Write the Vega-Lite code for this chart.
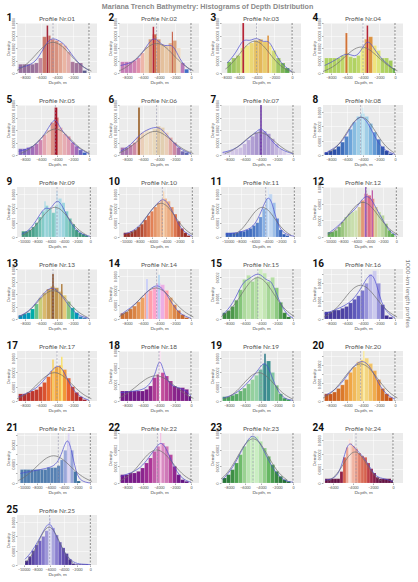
{
"$schema":"https://vega.github.io/schema/vega-lite/v6.json",
"title":{"text":"Mariana Trench Bathymetry: Histograms of Depth Distribution","fontSize":7.2,"fontWeight":"bold","color":"#8a8a8a","offset":2,"anchor":"middle","frame":"bounds","font":"Liberation Sans"},
"padding":{"left":5,"right":2,"top":3,"bottom":2},
"spacing":0,
"resolve":{"scale":{"color":"independent"}},
"hconcat":[
{"vconcat":[
{"hconcat":[
{"title":"Profile Nr.01","layer":[{"data":{"name":"h1"},"mark":"rect","encoding":{"x":{"field":"x","type":"quantitative","scale":{"domain":[-9000,300]},"title":"Depth, m"},"x2":{"field":"x2"},"y":{"field":"y","type":"quantitative","title":"Density"},"y2":{"datum":0},"color":{"field":"y","type":"quantitative","scale":{"range":["#5a5a8c","#f2c6b6","#9e1a2e"]}}}},{"data":{"name":"c1"},"mark":"line","encoding":{"x":{"field":"x","type":"quantitative","axis":null},"y":{"field":"y","type":"quantitative"},"stroke":{"field":"c","type":"nominal"}}},{"data":{"name":"r1"},"mark":"rule","encoding":{"x":{"field":"x","type":"quantitative","axis":{"orient":"top","title":"1"}},"stroke":{"field":"t","type":"nominal"}}}],"resolve":{"axis":{"x":"independent"}}},
{"title":"Profile Nr.02","layer":[{"data":{"name":"h2"},"mark":"rect","encoding":{"x":{"field":"x","type":"quantitative","scale":{"domain":[-9000,300]},"title":"Depth, m"},"x2":{"field":"x2"},"y":{"field":"y","type":"quantitative","title":"Density"},"y2":{"datum":0},"color":{"field":"y","type":"quantitative","scale":{"range":["#3f6fc8","#f0dcc2","#b3172c"]}}}},{"data":{"name":"c2"},"mark":"line","encoding":{"x":{"field":"x","type":"quantitative","axis":null},"y":{"field":"y","type":"quantitative"},"stroke":{"field":"c","type":"nominal"}}},{"data":{"name":"r2"},"mark":"rule","encoding":{"x":{"field":"x","type":"quantitative","axis":{"orient":"top","title":"2"}},"stroke":{"field":"t","type":"nominal"}}}],"resolve":{"axis":{"x":"independent"}}},
{"title":"Profile Nr.03","layer":[{"data":{"name":"h3"},"mark":"rect","encoding":{"x":{"field":"x","type":"quantitative","scale":{"domain":[-7500,300]},"title":"Depth, m"},"x2":{"field":"x2"},"y":{"field":"y","type":"quantitative","title":"Density"},"y2":{"datum":0},"color":{"field":"y","type":"quantitative","scale":{"range":["#5aa84e","#f0ea8a","#b2182b"]}}}},{"data":{"name":"c3"},"mark":"line","encoding":{"x":{"field":"x","type":"quantitative","axis":null},"y":{"field":"y","type":"quantitative"},"stroke":{"field":"c","type":"nominal"}}},{"data":{"name":"r3"},"mark":"rule","encoding":{"x":{"field":"x","type":"quantitative","axis":{"orient":"top","title":"3"}},"stroke":{"field":"t","type":"nominal"}}}],"resolve":{"axis":{"x":"independent"}}},
{"title":"Profile Nr.04","layer":[{"data":{"name":"h4"},"mark":"rect","encoding":{"x":{"field":"x","type":"quantitative","scale":{"domain":[-9000,300]},"title":"Depth, m"},"x2":{"field":"x2"},"y":{"field":"y","type":"quantitative","title":"Density"},"y2":{"datum":0},"color":{"field":"y","type":"quantitative","scale":{"range":["#6fb84a","#f2ee88","#b2182b"]}}}},{"data":{"name":"c4"},"mark":"line","encoding":{"x":{"field":"x","type":"quantitative","axis":null},"y":{"field":"y","type":"quantitative"},"stroke":{"field":"c","type":"nominal"}}},{"data":{"name":"r4"},"mark":"rule","encoding":{"x":{"field":"x","type":"quantitative","axis":{"orient":"top","title":"4"}},"stroke":{"field":"t","type":"nominal"}}}],"resolve":{"axis":{"x":"independent"}}}
],"spacing":10,"resolve":{"scale":{"color":"independent"}}},
{"hconcat":[
{"title":"Profile Nr.05","layer":[{"data":{"name":"h5"},"mark":"rect","encoding":{"x":{"field":"x","type":"quantitative","scale":{"domain":[-9000,300]},"title":"Depth, m"},"x2":{"field":"x2"},"y":{"field":"y","type":"quantitative","title":"Density"},"y2":{"datum":0},"color":{"field":"y","type":"quantitative","scale":{"range":["#3a5fbf","#eec6c0","#a50f25"]}}}},{"data":{"name":"c5"},"mark":"line","encoding":{"x":{"field":"x","type":"quantitative","axis":null},"y":{"field":"y","type":"quantitative"},"stroke":{"field":"c","type":"nominal"}}},{"data":{"name":"r5"},"mark":"rule","encoding":{"x":{"field":"x","type":"quantitative","axis":{"orient":"top","title":"5"}},"stroke":{"field":"t","type":"nominal"}}}],"resolve":{"axis":{"x":"independent"}}},
{"title":"Profile Nr.06","layer":[{"data":{"name":"h6"},"mark":"rect","encoding":{"x":{"field":"x","type":"quantitative","scale":{"domain":[-9000,300]},"title":"Depth, m"},"x2":{"field":"x2"},"y":{"field":"y","type":"quantitative","title":"Density"},"y2":{"datum":0},"color":{"field":"y","type":"quantitative","scale":{"range":["#5d68b0","#eee0c8","#8c4a0a"]}}}},{"data":{"name":"c6"},"mark":"line","encoding":{"x":{"field":"x","type":"quantitative","axis":null},"y":{"field":"y","type":"quantitative"},"stroke":{"field":"c","type":"nominal"}}},{"data":{"name":"r6"},"mark":"rule","encoding":{"x":{"field":"x","type":"quantitative","axis":{"orient":"top","title":"6"}},"stroke":{"field":"t","type":"nominal"}}}],"resolve":{"axis":{"x":"independent"}}},
{"title":"Profile Nr.07","layer":[{"data":{"name":"h7"},"mark":"rect","encoding":{"x":{"field":"x","type":"quantitative","scale":{"domain":[-9000,300]},"title":"Depth, m"},"x2":{"field":"x2"},"y":{"field":"y","type":"quantitative","title":"Density"},"y2":{"datum":0},"color":{"field":"y","type":"quantitative","scale":{"range":["#dcd2ec","#a08cca","#5b1a9c"]}}}},{"data":{"name":"c7"},"mark":"line","encoding":{"x":{"field":"x","type":"quantitative","axis":null},"y":{"field":"y","type":"quantitative"},"stroke":{"field":"c","type":"nominal"}}},{"data":{"name":"r7"},"mark":"rule","encoding":{"x":{"field":"x","type":"quantitative","axis":{"orient":"top","title":"7"}},"stroke":{"field":"t","type":"nominal"}}}],"resolve":{"axis":{"x":"independent"}}},
{"title":"Profile Nr.08","layer":[{"data":{"name":"h8"},"mark":"rect","encoding":{"x":{"field":"x","type":"quantitative","scale":{"domain":[-9000,300]},"title":"Depth, m"},"x2":{"field":"x2"},"y":{"field":"y","type":"quantitative","title":"Density"},"y2":{"datum":0},"color":{"field":"y","type":"quantitative","scale":{"range":["#243c9a","#6aa0d8","#c8e8f2"]}}}},{"data":{"name":"c8"},"mark":"line","encoding":{"x":{"field":"x","type":"quantitative","axis":null},"y":{"field":"y","type":"quantitative"},"stroke":{"field":"c","type":"nominal"}}},{"data":{"name":"r8"},"mark":"rule","encoding":{"x":{"field":"x","type":"quantitative","axis":{"orient":"top","title":"8"}},"stroke":{"field":"t","type":"nominal"}}}],"resolve":{"axis":{"x":"independent"}}}
],"spacing":10,"resolve":{"scale":{"color":"independent"}}},
{"hconcat":[
{"title":"Profile Nr.09","layer":[{"data":{"name":"h9"},"mark":"rect","encoding":{"x":{"field":"x","type":"quantitative","scale":{"domain":[-10500,300]},"title":"Depth, m"},"x2":{"field":"x2"},"y":{"field":"y","type":"quantitative","title":"Density"},"y2":{"datum":0},"color":{"field":"y","type":"quantitative","scale":{"range":["#2e8a6a","#7cc8c0","#c6e2f2"]}}}},{"data":{"name":"c9"},"mark":"line","encoding":{"x":{"field":"x","type":"quantitative","axis":null},"y":{"field":"y","type":"quantitative"},"stroke":{"field":"c","type":"nominal"}}},{"data":{"name":"r9"},"mark":"rule","encoding":{"x":{"field":"x","type":"quantitative","axis":{"orient":"top","title":"9"}},"stroke":{"field":"t","type":"nominal"}}}],"resolve":{"axis":{"x":"independent"}}},
{"title":"Profile Nr.10","layer":[{"data":{"name":"h10"},"mark":"rect","encoding":{"x":{"field":"x","type":"quantitative","scale":{"domain":[-10500,300]},"title":"Depth, m"},"x2":{"field":"x2"},"y":{"field":"y","type":"quantitative","title":"Density"},"y2":{"datum":0},"color":{"field":"y","type":"quantitative","scale":{"range":["#8a1c1c","#e07850","#f6d4b4"]}}}},{"data":{"name":"c10"},"mark":"line","encoding":{"x":{"field":"x","type":"quantitative","axis":null},"y":{"field":"y","type":"quantitative"},"stroke":{"field":"c","type":"nominal"}}},{"data":{"name":"r10"},"mark":"rule","encoding":{"x":{"field":"x","type":"quantitative","axis":{"orient":"top","title":"10"}},"stroke":{"field":"t","type":"nominal"}}}],"resolve":{"axis":{"x":"independent"}}},
{"title":"Profile Nr.11","layer":[{"data":{"name":"h11"},"mark":"rect","encoding":{"x":{"field":"x","type":"quantitative","scale":{"domain":[-10500,300]},"title":"Depth, m"},"x2":{"field":"x2"},"y":{"field":"y","type":"quantitative","title":"Density"},"y2":{"datum":0},"color":{"field":"y","type":"quantitative","scale":{"range":["#2855b0","#7ea8e0","#dae8f8"]}}}},{"data":{"name":"c11"},"mark":"line","encoding":{"x":{"field":"x","type":"quantitative","axis":null},"y":{"field":"y","type":"quantitative"},"stroke":{"field":"c","type":"nominal"}}},{"data":{"name":"r11"},"mark":"rule","encoding":{"x":{"field":"x","type":"quantitative","axis":{"orient":"top","title":"11"}},"stroke":{"field":"t","type":"nominal"}}}],"resolve":{"axis":{"x":"independent"}}},
{"title":"Profile Nr.12","layer":[{"data":{"name":"h12"},"mark":"rect","encoding":{"x":{"field":"x","type":"quantitative","scale":{"domain":[-10500,300]},"title":"Depth, m"},"x2":{"field":"x2"},"y":{"field":"y","type":"quantitative","title":"Density"},"y2":{"datum":0},"color":{"field":"y","type":"quantitative","scale":{"range":["#5aa84e","#cfe2b4","#8a50b8"]}}}},{"data":{"name":"c12"},"mark":"line","encoding":{"x":{"field":"x","type":"quantitative","axis":null},"y":{"field":"y","type":"quantitative"},"stroke":{"field":"c","type":"nominal"}}},{"data":{"name":"r12"},"mark":"rule","encoding":{"x":{"field":"x","type":"quantitative","axis":{"orient":"top","title":"12"}},"stroke":{"field":"t","type":"nominal"}}}],"resolve":{"axis":{"x":"independent"}}}
],"spacing":10,"resolve":{"scale":{"color":"independent"}}},
{"hconcat":[
{"title":"Profile Nr.13","layer":[{"data":{"name":"h13"},"mark":"rect","encoding":{"x":{"field":"x","type":"quantitative","scale":{"domain":[-9000,300]},"title":"Depth, m"},"x2":{"field":"x2"},"y":{"field":"y","type":"quantitative","title":"Density"},"y2":{"datum":0},"color":{"field":"y","type":"quantitative","scale":{"range":["#3a7ab8","#e8d080","#7a3a10"]}}}},{"data":{"name":"c13"},"mark":"line","encoding":{"x":{"field":"x","type":"quantitative","axis":null},"y":{"field":"y","type":"quantitative"},"stroke":{"field":"c","type":"nominal"}}},{"data":{"name":"r13"},"mark":"rule","encoding":{"x":{"field":"x","type":"quantitative","axis":{"orient":"top","title":"13"}},"stroke":{"field":"t","type":"nominal"}}}],"resolve":{"axis":{"x":"independent"}}},
{"title":"Profile Nr.14","layer":[{"data":{"name":"h14"},"mark":"rect","encoding":{"x":{"field":"x","type":"quantitative","scale":{"domain":[-9000,300]},"title":"Depth, m"},"x2":{"field":"x2"},"y":{"field":"y","type":"quantitative","title":"Density"},"y2":{"datum":0},"color":{"field":"y","type":"quantitative","scale":{"range":["#c05a20","#f0a868","#a8d0f0"]}}}},{"data":{"name":"c14"},"mark":"line","encoding":{"x":{"field":"x","type":"quantitative","axis":null},"y":{"field":"y","type":"quantitative"},"stroke":{"field":"c","type":"nominal"}}},{"data":{"name":"r14"},"mark":"rule","encoding":{"x":{"field":"x","type":"quantitative","axis":{"orient":"top","title":"14"}},"stroke":{"field":"t","type":"nominal"}}}],"resolve":{"axis":{"x":"independent"}}},
{"title":"Profile Nr.15","layer":[{"data":{"name":"h15"},"mark":"rect","encoding":{"x":{"field":"x","type":"quantitative","scale":{"domain":[-9000,300]},"title":"Depth, m"},"x2":{"field":"x2"},"y":{"field":"y","type":"quantitative","title":"Density"},"y2":{"datum":0},"color":{"field":"y","type":"quantitative","scale":{"range":["#2a7a30","#78c070","#d2eec2"]}}}},{"data":{"name":"c15"},"mark":"line","encoding":{"x":{"field":"x","type":"quantitative","axis":null},"y":{"field":"y","type":"quantitative"},"stroke":{"field":"c","type":"nominal"}}},{"data":{"name":"r15"},"mark":"rule","encoding":{"x":{"field":"x","type":"quantitative","axis":{"orient":"top","title":"15"}},"stroke":{"field":"t","type":"nominal"}}}],"resolve":{"axis":{"x":"independent"}}},
{"title":"Profile Nr.16","layer":[{"data":{"name":"h16"},"mark":"rect","encoding":{"x":{"field":"x","type":"quantitative","scale":{"domain":[-9000,300]},"title":"Depth, m"},"x2":{"field":"x2"},"y":{"field":"y","type":"quantitative","title":"Density"},"y2":{"datum":0},"color":{"field":"y","type":"quantitative","scale":{"range":["#3a2a8c","#6a68c8","#cccaee"]}}}},{"data":{"name":"c16"},"mark":"line","encoding":{"x":{"field":"x","type":"quantitative","axis":null},"y":{"field":"y","type":"quantitative"},"stroke":{"field":"c","type":"nominal"}}},{"data":{"name":"r16"},"mark":"rule","encoding":{"x":{"field":"x","type":"quantitative","axis":{"orient":"top","title":"16"}},"stroke":{"field":"t","type":"nominal"}}}],"resolve":{"axis":{"x":"independent"}}}
],"spacing":10,"resolve":{"scale":{"color":"independent"}}},
{"hconcat":[
{"title":"Profile Nr.17","layer":[{"data":{"name":"h17"},"mark":"rect","encoding":{"x":{"field":"x","type":"quantitative","scale":{"domain":[-9000,300]},"title":"Depth, m"},"x2":{"field":"x2"},"y":{"field":"y","type":"quantitative","title":"Density"},"y2":{"datum":0},"color":{"field":"y","type":"quantitative","scale":{"range":["#a01828","#e86030","#f8e068"]}}}},{"data":{"name":"c17"},"mark":"line","encoding":{"x":{"field":"x","type":"quantitative","axis":null},"y":{"field":"y","type":"quantitative"},"stroke":{"field":"c","type":"nominal"}}},{"data":{"name":"r17"},"mark":"rule","encoding":{"x":{"field":"x","type":"quantitative","axis":{"orient":"top","title":"17"}},"stroke":{"field":"t","type":"nominal"}}}],"resolve":{"axis":{"x":"independent"}}},
{"title":"Profile Nr.18","layer":[{"data":{"name":"h18"},"mark":"rect","encoding":{"x":{"field":"x","type":"quantitative","scale":{"domain":[-9000,300]},"title":"Depth, m"},"x2":{"field":"x2"},"y":{"field":"y","type":"quantitative","title":"Density"},"y2":{"datum":0},"color":{"field":"y","type":"quantitative","scale":{"range":["#5a1080","#c04898","#fae2f2"]}}}},{"data":{"name":"c18"},"mark":"line","encoding":{"x":{"field":"x","type":"quantitative","axis":null},"y":{"field":"y","type":"quantitative"},"stroke":{"field":"c","type":"nominal"}}},{"data":{"name":"r18"},"mark":"rule","encoding":{"x":{"field":"x","type":"quantitative","axis":{"orient":"top","title":"18"}},"stroke":{"field":"t","type":"nominal"}}}],"resolve":{"axis":{"x":"independent"}}},
{"title":"Profile Nr.19","layer":[{"data":{"name":"h19"},"mark":"rect","encoding":{"x":{"field":"x","type":"quantitative","scale":{"domain":[-9000,300]},"title":"Depth, m"},"x2":{"field":"x2"},"y":{"field":"y","type":"quantitative","title":"Density"},"y2":{"datum":0},"color":{"field":"y","type":"quantitative","scale":{"range":["#3a9a50","#a0d8a8","#207080"]}}}},{"data":{"name":"c19"},"mark":"line","encoding":{"x":{"field":"x","type":"quantitative","axis":null},"y":{"field":"y","type":"quantitative"},"stroke":{"field":"c","type":"nominal"}}},{"data":{"name":"r19"},"mark":"rule","encoding":{"x":{"field":"x","type":"quantitative","axis":{"orient":"top","title":"19"}},"stroke":{"field":"t","type":"nominal"}}}],"resolve":{"axis":{"x":"independent"}}},
{"title":"Profile Nr.20","layer":[{"data":{"name":"h20"},"mark":"rect","encoding":{"x":{"field":"x","type":"quantitative","scale":{"domain":[-9000,300]},"title":"Depth, m"},"x2":{"field":"x2"},"y":{"field":"y","type":"quantitative","title":"Density"},"y2":{"datum":0},"color":{"field":"y","type":"quantitative","scale":{"range":["#c04a18","#f0a040","#f8eaa0"]}}}},{"data":{"name":"c20"},"mark":"line","encoding":{"x":{"field":"x","type":"quantitative","axis":null},"y":{"field":"y","type":"quantitative"},"stroke":{"field":"c","type":"nominal"}}},{"data":{"name":"r20"},"mark":"rule","encoding":{"x":{"field":"x","type":"quantitative","axis":{"orient":"top","title":"20"}},"stroke":{"field":"t","type":"nominal"}}}],"resolve":{"axis":{"x":"independent"}}}
],"spacing":10,"resolve":{"scale":{"color":"independent"}}},
{"hconcat":[
{"title":"Profile Nr.21","layer":[{"data":{"name":"h21"},"mark":"rect","encoding":{"x":{"field":"x","type":"quantitative","scale":{"domain":[-10800,300]},"title":"Depth, m"},"x2":{"field":"x2"},"y":{"field":"y","type":"quantitative","title":"Density"},"y2":{"datum":0},"color":{"field":"y","type":"quantitative","scale":{"range":["#24628c","#7a98d0","#dcd4f2"]}}}},{"data":{"name":"c21"},"mark":"line","encoding":{"x":{"field":"x","type":"quantitative","axis":null},"y":{"field":"y","type":"quantitative"},"stroke":{"field":"c","type":"nominal"}}},{"data":{"name":"r21"},"mark":"rule","encoding":{"x":{"field":"x","type":"quantitative","axis":{"orient":"top","title":"21"}},"stroke":{"field":"t","type":"nominal"}}}],"resolve":{"axis":{"x":"independent"}}},
{"title":"Profile Nr.22","layer":[{"data":{"name":"h22"},"mark":"rect","encoding":{"x":{"field":"x","type":"quantitative","scale":{"domain":[-9000,300]},"title":"Depth, m"},"x2":{"field":"x2"},"y":{"field":"y","type":"quantitative","title":"Density"},"y2":{"datum":0},"color":{"field":"y","type":"quantitative","scale":{"range":["#5a1080","#b03898","#f2c2e2"]}}}},{"data":{"name":"c22"},"mark":"line","encoding":{"x":{"field":"x","type":"quantitative","axis":null},"y":{"field":"y","type":"quantitative"},"stroke":{"field":"c","type":"nominal"}}},{"data":{"name":"r22"},"mark":"rule","encoding":{"x":{"field":"x","type":"quantitative","axis":{"orient":"top","title":"22"}},"stroke":{"field":"t","type":"nominal"}}}],"resolve":{"axis":{"x":"independent"}}},
{"title":"Profile Nr.23","layer":[{"data":{"name":"h23"},"mark":"rect","encoding":{"x":{"field":"x","type":"quantitative","scale":{"domain":[-9000,300]},"title":"Depth, m"},"x2":{"field":"x2"},"y":{"field":"y","type":"quantitative","title":"Density"},"y2":{"datum":0},"color":{"field":"y","type":"quantitative","scale":{"range":["#1e6a30","#58b058","#caeec2"]}}}},{"data":{"name":"c23"},"mark":"line","encoding":{"x":{"field":"x","type":"quantitative","axis":null},"y":{"field":"y","type":"quantitative"},"stroke":{"field":"c","type":"nominal"}}},{"data":{"name":"r23"},"mark":"rule","encoding":{"x":{"field":"x","type":"quantitative","axis":{"orient":"top","title":"23"}},"stroke":{"field":"t","type":"nominal"}}}],"resolve":{"axis":{"x":"independent"}}},
{"title":"Profile Nr.24","layer":[{"data":{"name":"h24"},"mark":"rect","encoding":{"x":{"field":"x","type":"quantitative","scale":{"domain":[-7000,300]},"title":"Depth, m"},"x2":{"field":"x2"},"y":{"field":"y","type":"quantitative","title":"Density"},"y2":{"datum":0},"color":{"field":"y","type":"quantitative","scale":{"range":["#5a1040","#d05040","#fae2da"]}}}},{"data":{"name":"c24"},"mark":"line","encoding":{"x":{"field":"x","type":"quantitative","axis":null},"y":{"field":"y","type":"quantitative"},"stroke":{"field":"c","type":"nominal"}}},{"data":{"name":"r24"},"mark":"rule","encoding":{"x":{"field":"x","type":"quantitative","axis":{"orient":"top","title":"24"}},"stroke":{"field":"t","type":"nominal"}}}],"resolve":{"axis":{"x":"independent"}}}
],"spacing":10,"resolve":{"scale":{"color":"independent"}}},
{"hconcat":[
{"title":"Profile Nr.25","layer":[{"data":{"name":"h25"},"mark":"rect","encoding":{"x":{"field":"x","type":"quantitative","scale":{"domain":[-10500,300]},"title":"Depth, m"},"x2":{"field":"x2"},"y":{"field":"y","type":"quantitative","title":"Density"},"y2":{"datum":0},"color":{"field":"y","type":"quantitative","scale":{"range":["#3a2080","#7060c0","#dadaf2"]}}}},{"data":{"name":"c25"},"mark":"line","encoding":{"x":{"field":"x","type":"quantitative","axis":null},"y":{"field":"y","type":"quantitative"},"stroke":{"field":"c","type":"nominal"}}},{"data":{"name":"r25"},"mark":"rule","encoding":{"x":{"field":"x","type":"quantitative","axis":{"orient":"top","title":"25"}},"stroke":{"field":"t","type":"nominal"}}}],"resolve":{"axis":{"x":"independent"}}}
],"spacing":10,"resolve":{"scale":{"color":"independent"}}}
],"spacing":10,"resolve":{"scale":{"color":"independent"}}},
{"width":1,"height":540,"view":{"fill":null},"data":{"values":[{}]},"mark":{"type":"rule","opacity":0},"encoding":{"y":{"datum":0,"type":"quantitative","axis":{"orient":"right","title":"1000-km length profiles","labels":false,"ticks":false,"domain":false,"grid":false,"titleAngle":90,"titleFontSize":6.5,"titleFontWeight":"normal","titleColor":"#777777","titlePadding":0}}}}
],
"datasets":{
"h1":[{"x":-8800,"x2":-8300,"y":7e-5},{"x":-8300,"x2":-7800,"y":7e-5},{"x":-7800,"x2":-7300,"y":7e-5},{"x":-7300,"x2":-6800,"y":7e-5},{"x":-6800,"x2":-6300,"y":8e-5},{"x":-6300,"x2":-5800,"y":12e-5},{"x":-5800,"x2":-5300,"y":29e-5},{"x":-5100,"x2":-4800,"y":30e-5},{"x":-4800,"x2":-4300,"y":27e-5},{"x":-4300,"x2":-3800,"y":26e-5},{"x":-3800,"x2":-3300,"y":24e-5},{"x":-3300,"x2":-2800,"y":22e-5},{"x":-2800,"x2":-2300,"y":17e-5},{"x":-2300,"x2":-1800,"y":9e-5},{"x":-1800,"x2":-1300,"y":8e-5},{"x":-1300,"x2":-800,"y":8e-5},{"x":-800,"x2":-300,"y":2e-5},{"x":-5300,"x2":-5100,"y":38e-5}],
"c1":[{"c":"kde","x":-8800,"y":4e-5},{"c":"kde","x":-7500,"y":6e-5},{"c":"kde","x":-6500,"y":10e-5},{"c":"kde","x":-5500,"y":22e-5},{"c":"kde","x":-4800,"y":28e-5},{"c":"kde","x":-4000,"y":27e-5},{"c":"kde","x":-3000,"y":23e-5},{"c":"kde","x":-2000,"y":13e-5},{"c":"kde","x":-1000,"y":6e-5},{"c":"kde","x":0,"y":2e-5},{"c":"normal","x":-9000,"y":2.1e-5},{"c":"normal","x":-8100,"y":5.1e-5},{"c":"normal","x":-6900,"y":12.7e-5},{"c":"normal","x":-5700,"y":21.7e-5},{"c":"normal","x":-4500,"y":26e-5},{"c":"normal","x":-3300,"y":21.7e-5},{"c":"normal","x":-2100,"y":12.7e-5},{"c":"normal","x":-900,"y":5.1e-5},{"c":"normal","x":300,"y":1.5e-5}],
"r1":[{"t":"mean","x":-4500},{"t":"zero","x":0}],
"h2":[{"x":-8800,"x2":-8300,"y":9e-5},{"x":-8300,"x2":-7800,"y":9e-5},{"x":-7800,"x2":-7300,"y":9e-5},{"x":-7300,"x2":-6800,"y":10e-5},{"x":-6800,"x2":-6300,"y":12e-5},{"x":-6300,"x2":-5800,"y":16e-5},{"x":-5800,"x2":-5300,"y":21e-5},{"x":-5300,"x2":-4800,"y":27e-5},{"x":-4800,"x2":-4300,"y":31e-5},{"x":-4300,"x2":-3800,"y":27e-5},{"x":-3800,"x2":-3300,"y":23e-5},{"x":-3300,"x2":-2800,"y":22e-5},{"x":-2800,"x2":-2300,"y":24e-5},{"x":-2300,"x2":-1800,"y":26e-5},{"x":-1800,"x2":-1300,"y":20e-5},{"x":-1300,"x2":-800,"y":8e-5},{"x":-800,"x2":-300,"y":3e-5},{"x":-4800,"x2":-4600,"y":37e-5},{"x":-2400,"x2":-2250,"y":33e-5}],
"c2":[{"c":"kde","x":-8800,"y":6e-5},{"c":"kde","x":-7500,"y":8e-5},{"c":"kde","x":-6500,"y":12e-5},{"c":"kde","x":-5500,"y":22e-5},{"c":"kde","x":-4700,"y":29e-5},{"c":"kde","x":-4000,"y":25e-5},{"c":"kde","x":-3300,"y":21e-5},{"c":"kde","x":-2600,"y":23e-5},{"c":"kde","x":-2000,"y":20e-5},{"c":"kde","x":-1200,"y":8e-5},{"c":"kde","x":0,"y":2e-5},{"c":"normal","x":-9000,"y":1.6e-5},{"c":"normal","x":-7900,"y":5e-5},{"c":"normal","x":-6700,"y":12.2e-5},{"c":"normal","x":-5500,"y":20.9e-5},{"c":"normal","x":-4300,"y":25e-5},{"c":"normal","x":-3100,"y":20.9e-5},{"c":"normal","x":-1900,"y":12.2e-5},{"c":"normal","x":-700,"y":5e-5},{"c":"normal","x":300,"y":1.8e-5}],
"r2":[{"t":"mean","x":-4300},{"t":"zero","x":0}],
"h3":[{"x":-7300,"x2":-6800,"y":9e-5},{"x":-6800,"x2":-6300,"y":12e-5},{"x":-6300,"x2":-5800,"y":14e-5},{"x":-5800,"x2":-5300,"y":20e-5},{"x":-5300,"x2":-4800,"y":22e-5},{"x":-4800,"x2":-4300,"y":24e-5},{"x":-4300,"x2":-3800,"y":26e-5},{"x":-3800,"x2":-3300,"y":27e-5},{"x":-3300,"x2":-2800,"y":25e-5},{"x":-2800,"x2":-2300,"y":22e-5},{"x":-2300,"x2":-1800,"y":18e-5},{"x":-1800,"x2":-1300,"y":12e-5},{"x":-1300,"x2":-800,"y":8e-5},{"x":-800,"x2":-300,"y":4e-5},{"x":-5600,"x2":-5400,"y":40e-5},{"x":-2800,"x2":-2600,"y":30e-5}],
"c3":[{"c":"kde","x":-7300,"y":8e-5},{"c":"kde","x":-6300,"y":16e-5},{"c":"kde","x":-5500,"y":28e-5},{"c":"kde","x":-4800,"y":25e-5},{"c":"kde","x":-4000,"y":29e-5},{"c":"kde","x":-3200,"y":24e-5},{"c":"kde","x":-2600,"y":27e-5},{"c":"kde","x":-1800,"y":14e-5},{"c":"kde","x":-1000,"y":6e-5},{"c":"kde","x":0,"y":1e-5},{"c":"normal","x":-7500,"y":3.2e-5},{"c":"normal","x":-7080,"y":5.3e-5},{"c":"normal","x":-6120,"y":13.1e-5},{"c":"normal","x":-5160,"y":22.5e-5},{"c":"normal","x":-4200,"y":27e-5},{"c":"normal","x":-3240,"y":22.5e-5},{"c":"normal","x":-2280,"y":13.1e-5},{"c":"normal","x":-1320,"y":5.3e-5},{"c":"normal","x":-360,"y":1.5e-5},{"c":"normal","x":300,"y":0.5e-5}],
"r3":[{"t":"mean","x":-4000},{"t":"zero","x":0}],
"h4":[{"x":-8800,"x2":-8300,"y":12e-5},{"x":-8300,"x2":-7800,"y":12e-5},{"x":-7800,"x2":-7300,"y":12e-5},{"x":-7300,"x2":-6800,"y":12e-5},{"x":-6800,"x2":-6300,"y":14e-5},{"x":-6300,"x2":-5800,"y":16e-5},{"x":-5800,"x2":-5300,"y":13e-5},{"x":-5300,"x2":-4800,"y":12e-5},{"x":-4800,"x2":-4300,"y":14e-5},{"x":-4300,"x2":-3800,"y":20e-5},{"x":-3800,"x2":-3300,"y":27e-5},{"x":-3300,"x2":-2800,"y":29e-5},{"x":-2800,"x2":-2300,"y":22e-5},{"x":-2300,"x2":-1800,"y":18e-5},{"x":-1800,"x2":-1300,"y":12e-5},{"x":-1300,"x2":-800,"y":12e-5},{"x":-800,"x2":-300,"y":10e-5},{"x":-300,"x2":0,"y":4e-5},{"x":-6200,"x2":-5950,"y":32e-5},{"x":-3550,"x2":-3350,"y":38e-5}],
"c4":[{"c":"kde","x":-8800,"y":6e-5},{"c":"kde","x":-7500,"y":10e-5},{"c":"kde","x":-6000,"y":17e-5},{"c":"kde","x":-5000,"y":12e-5},{"c":"kde","x":-4200,"y":18e-5},{"c":"kde","x":-3400,"y":28e-5},{"c":"kde","x":-2500,"y":18e-5},{"c":"kde","x":-1500,"y":10e-5},{"c":"kde","x":-500,"y":5e-5},{"c":"kde","x":0,"y":2e-5},{"c":"normal","x":-9000,"y":1.2e-5},{"c":"normal","x":-7800,"y":4.4e-5},{"c":"normal","x":-6600,"y":10.7e-5},{"c":"normal","x":-5400,"y":18.4e-5},{"c":"normal","x":-4200,"y":22e-5},{"c":"normal","x":-3000,"y":18.4e-5},{"c":"normal","x":-1800,"y":10.7e-5},{"c":"normal","x":-600,"y":4.4e-5},{"c":"normal","x":300,"y":1.8e-5}],
"r4":[{"t":"mean","x":-4000},{"t":"zero","x":0}],
"h5":[{"x":-8800,"x2":-8300,"y":5e-5},{"x":-8300,"x2":-7800,"y":5e-5},{"x":-7800,"x2":-7300,"y":6e-5},{"x":-7300,"x2":-6800,"y":7e-5},{"x":-6800,"x2":-6300,"y":9e-5},{"x":-6300,"x2":-5800,"y":12e-5},{"x":-5800,"x2":-5300,"y":16e-5},{"x":-5300,"x2":-4800,"y":20e-5},{"x":-4800,"x2":-4300,"y":26e-5},{"x":-4300,"x2":-3800,"y":30e-5},{"x":-3800,"x2":-3300,"y":22e-5},{"x":-3300,"x2":-2800,"y":17e-5},{"x":-2800,"x2":-2300,"y":15e-5},{"x":-2300,"x2":-1800,"y":10e-5},{"x":-1800,"x2":-1300,"y":7e-5},{"x":-1300,"x2":-800,"y":4e-5},{"x":-800,"x2":-300,"y":2e-5},{"x":-4300,"x2":-3950,"y":38e-5}],
"c5":[{"c":"kde","x":-8800,"y":3e-5},{"c":"kde","x":-7500,"y":5e-5},{"c":"kde","x":-6500,"y":9e-5},{"c":"kde","x":-5500,"y":17e-5},{"c":"kde","x":-4600,"y":27e-5},{"c":"kde","x":-4100,"y":29e-5},{"c":"kde","x":-3500,"y":20e-5},{"c":"kde","x":-2500,"y":13e-5},{"c":"kde","x":-1500,"y":6e-5},{"c":"kde","x":0,"y":1e-5},{"c":"normal","x":-8520,"y":1.2e-5},{"c":"normal","x":-7440,"y":4.4e-5},{"c":"normal","x":-6360,"y":10.7e-5},{"c":"normal","x":-5280,"y":18.4e-5},{"c":"normal","x":-4200,"y":22e-5},{"c":"normal","x":-3120,"y":18.4e-5},{"c":"normal","x":-2040,"y":10.7e-5},{"c":"normal","x":-960,"y":4.4e-5},{"c":"normal","x":120,"y":1.2e-5}],
"r5":[{"t":"mean","x":-4200},{"t":"zero","x":0}],
"h6":[{"x":-8800,"x2":-8300,"y":6e-5},{"x":-8300,"x2":-7800,"y":6e-5},{"x":-7800,"x2":-7300,"y":8e-5},{"x":-7300,"x2":-6800,"y":10e-5},{"x":-6800,"x2":-6300,"y":14e-5},{"x":-6300,"x2":-5800,"y":18e-5},{"x":-5800,"x2":-5300,"y":20e-5},{"x":-5300,"x2":-4800,"y":19e-5},{"x":-4800,"x2":-4300,"y":21e-5},{"x":-4300,"x2":-3800,"y":23e-5},{"x":-3800,"x2":-3300,"y":22e-5},{"x":-3300,"x2":-2800,"y":18e-5},{"x":-2800,"x2":-2300,"y":14e-5},{"x":-2300,"x2":-1800,"y":10e-5},{"x":-1800,"x2":-1300,"y":6e-5},{"x":-1300,"x2":-800,"y":3e-5},{"x":-800,"x2":-300,"y":2e-5},{"x":-6600,"x2":-6400,"y":38e-5}],
"c6":[{"c":"kde","x":-8800,"y":3e-5},{"c":"kde","x":-7500,"y":8e-5},{"c":"kde","x":-6500,"y":16e-5},{"c":"kde","x":-5600,"y":20e-5},{"c":"kde","x":-4300,"y":23e-5},{"c":"kde","x":-3500,"y":20e-5},{"c":"kde","x":-2500,"y":12e-5},{"c":"kde","x":-1500,"y":5e-5},{"c":"kde","x":0,"y":1e-5},{"c":"normal","x":-9000,"y":1.6e-5},{"c":"normal","x":-8100,"y":4e-5},{"c":"normal","x":-6900,"y":9.7e-5},{"c":"normal","x":-5700,"y":16.7e-5},{"c":"normal","x":-4500,"y":20e-5},{"c":"normal","x":-3300,"y":16.7e-5},{"c":"normal","x":-2100,"y":9.7e-5},{"c":"normal","x":-900,"y":4e-5},{"c":"normal","x":300,"y":1.1e-5}],
"r6":[{"t":"mean","x":-4300},{"t":"zero","x":0}],
"h7":[{"x":-8800,"x2":-8300,"y":3e-5},{"x":-8300,"x2":-7800,"y":3e-5},{"x":-7800,"x2":-7300,"y":4e-5},{"x":-7300,"x2":-6800,"y":5e-5},{"x":-6800,"x2":-6300,"y":6e-5},{"x":-6300,"x2":-5800,"y":9e-5},{"x":-5800,"x2":-5300,"y":12e-5},{"x":-5300,"x2":-4800,"y":15e-5},{"x":-4800,"x2":-4300,"y":18e-5},{"x":-4300,"x2":-3800,"y":20e-5},{"x":-3800,"x2":-3300,"y":19e-5},{"x":-3300,"x2":-2800,"y":17e-5},{"x":-2800,"x2":-2300,"y":13e-5},{"x":-2300,"x2":-1800,"y":9e-5},{"x":-1800,"x2":-1300,"y":5e-5},{"x":-1300,"x2":-800,"y":3e-5},{"x":-800,"x2":-300,"y":1e-5},{"x":-4100,"x2":-3900,"y":40e-5}],
"c7":[{"c":"kde","x":-8800,"y":2e-5},{"c":"kde","x":-7500,"y":4e-5},{"c":"kde","x":-6500,"y":8e-5},{"c":"kde","x":-5500,"y":14e-5},{"c":"kde","x":-4500,"y":19e-5},{"c":"kde","x":-4000,"y":22e-5},{"c":"kde","x":-3300,"y":17e-5},{"c":"kde","x":-2500,"y":10e-5},{"c":"kde","x":-1500,"y":4e-5},{"c":"kde","x":0,"y":1e-5},{"c":"normal","x":-8520,"y":1.1e-5},{"c":"normal","x":-7440,"y":3.8e-5},{"c":"normal","x":-6360,"y":9.3e-5},{"c":"normal","x":-5280,"y":15.9e-5},{"c":"normal","x":-4200,"y":19e-5},{"c":"normal","x":-3120,"y":15.9e-5},{"c":"normal","x":-2040,"y":9.3e-5},{"c":"normal","x":-960,"y":3.8e-5},{"c":"normal","x":120,"y":1.1e-5}],
"r7":[{"t":"mean","x":-4000},{"t":"zero","x":0}],
"h8":[{"x":-8800,"x2":-8300,"y":2e-5},{"x":-8300,"x2":-7800,"y":3e-5},{"x":-7800,"x2":-7300,"y":4e-5},{"x":-7300,"x2":-6800,"y":6e-5},{"x":-6800,"x2":-6300,"y":9e-5},{"x":-6300,"x2":-5800,"y":13e-5},{"x":-5800,"x2":-5300,"y":18e-5},{"x":-5300,"x2":-4800,"y":23e-5},{"x":-4800,"x2":-4300,"y":27e-5},{"x":-4300,"x2":-3800,"y":29e-5},{"x":-3800,"x2":-3300,"y":27e-5},{"x":-3300,"x2":-2800,"y":22e-5},{"x":-2800,"x2":-2300,"y":16e-5},{"x":-2300,"x2":-1800,"y":11e-5},{"x":-1800,"x2":-1300,"y":6e-5},{"x":-1300,"x2":-800,"y":3e-5},{"x":-800,"x2":-300,"y":1e-5},{"x":-4100,"x2":-3950,"y":33e-5}],
"c8":[{"c":"kde","x":-8800,"y":1e-5},{"c":"kde","x":-7500,"y":5e-5},{"c":"kde","x":-6500,"y":10e-5},{"c":"kde","x":-5500,"y":20e-5},{"c":"kde","x":-4300,"y":29e-5},{"c":"kde","x":-3300,"y":22e-5},{"c":"kde","x":-2300,"y":10e-5},{"c":"kde","x":-1300,"y":3e-5},{"c":"kde","x":0,"y":0.5e-5},{"c":"normal","x":-8280,"y":1.6e-5},{"c":"normal","x":-7260,"y":5.5e-5},{"c":"normal","x":-6240,"y":13.6e-5},{"c":"normal","x":-5220,"y":23.4e-5},{"c":"normal","x":-4200,"y":28e-5},{"c":"normal","x":-3180,"y":23.4e-5},{"c":"normal","x":-2160,"y":13.6e-5},{"c":"normal","x":-1140,"y":5.5e-5},{"c":"normal","x":-120,"y":1.6e-5}],
"r8":[{"t":"mean","x":-4300},{"t":"zero","x":0}],
"h9":[{"x":-10300,"x2":-9800,"y":4e-5},{"x":-9800,"x2":-9300,"y":4e-5},{"x":-9300,"x2":-8800,"y":5e-5},{"x":-8800,"x2":-8300,"y":7e-5},{"x":-8300,"x2":-7800,"y":10e-5},{"x":-7800,"x2":-7300,"y":14e-5},{"x":-7300,"x2":-6800,"y":18e-5},{"x":-6800,"x2":-6300,"y":22e-5},{"x":-6300,"x2":-5800,"y":20e-5},{"x":-5800,"x2":-5300,"y":17e-5},{"x":-5300,"x2":-4800,"y":22e-5},{"x":-4800,"x2":-4300,"y":27e-5},{"x":-4300,"x2":-3800,"y":24e-5},{"x":-3800,"x2":-3300,"y":18e-5},{"x":-3300,"x2":-2800,"y":13e-5},{"x":-2800,"x2":-2300,"y":9e-5},{"x":-2300,"x2":-1800,"y":5e-5},{"x":-1800,"x2":-1300,"y":3e-5},{"x":-1300,"x2":-800,"y":2e-5},{"x":-800,"x2":-300,"y":1e-5},{"x":-5100,"x2":-4900,"y":32e-5},{"x":-6900,"x2":-6700,"y":25e-5}],
"c9":[{"c":"kde","x":-10300,"y":2e-5},{"c":"kde","x":-9000,"y":5e-5},{"c":"kde","x":-7800,"y":14e-5},{"c":"kde","x":-6700,"y":22e-5},{"c":"kde","x":-6000,"y":18e-5},{"c":"kde","x":-5000,"y":28e-5},{"c":"kde","x":-4000,"y":20e-5},{"c":"kde","x":-3000,"y":10e-5},{"c":"kde","x":-2000,"y":4e-5},{"c":"kde","x":-800,"y":1e-5},{"c":"kde","x":0,"y":0.5e-5},{"c":"normal","x":-10100,"y":1.2e-5},{"c":"normal","x":-8900,"y":4.4e-5},{"c":"normal","x":-7700,"y":10.7e-5},{"c":"normal","x":-6500,"y":18.4e-5},{"c":"normal","x":-5300,"y":22e-5},{"c":"normal","x":-4100,"y":18.4e-5},{"c":"normal","x":-2900,"y":10.7e-5},{"c":"normal","x":-1700,"y":4.4e-5},{"c":"normal","x":-500,"y":1.2e-5}],
"r9":[{"t":"mean","x":-5000},{"t":"zero","x":0}],
"h10":[{"x":-10300,"x2":-9800,"y":3e-5},{"x":-9800,"x2":-9300,"y":3e-5},{"x":-9300,"x2":-8800,"y":4e-5},{"x":-8800,"x2":-8300,"y":5e-5},{"x":-8300,"x2":-7800,"y":7e-5},{"x":-7800,"x2":-7300,"y":9e-5},{"x":-7300,"x2":-6800,"y":12e-5},{"x":-6800,"x2":-6300,"y":15e-5},{"x":-6300,"x2":-5800,"y":18e-5},{"x":-5800,"x2":-5300,"y":21e-5},{"x":-5300,"x2":-4800,"y":24e-5},{"x":-4800,"x2":-4300,"y":26e-5},{"x":-4300,"x2":-3800,"y":27e-5},{"x":-3800,"x2":-3300,"y":25e-5},{"x":-3300,"x2":-2800,"y":21e-5},{"x":-2800,"x2":-2300,"y":16e-5},{"x":-2300,"x2":-1800,"y":11e-5},{"x":-1800,"x2":-1300,"y":6e-5},{"x":-1300,"x2":-800,"y":3e-5},{"x":-800,"x2":-300,"y":1e-5},{"x":-4400,"x2":-4200,"y":32e-5}],
"c10":[{"c":"kde","x":-10300,"y":2e-5},{"c":"kde","x":-8800,"y":4e-5},{"c":"kde","x":-7500,"y":10e-5},{"c":"kde","x":-6300,"y":18e-5},{"c":"kde","x":-5000,"y":25e-5},{"c":"kde","x":-4300,"y":27e-5},{"c":"kde","x":-3500,"y":23e-5},{"c":"kde","x":-2500,"y":13e-5},{"c":"kde","x":-1500,"y":4e-5},{"c":"kde","x":0,"y":0.5e-5},{"c":"normal","x":-9500,"y":1.4e-5},{"c":"normal","x":-8300,"y":5e-5},{"c":"normal","x":-7100,"y":12.2e-5},{"c":"normal","x":-5900,"y":20.9e-5},{"c":"normal","x":-4700,"y":25e-5},{"c":"normal","x":-3500,"y":20.9e-5},{"c":"normal","x":-2300,"y":12.2e-5},{"c":"normal","x":-1100,"y":5e-5},{"c":"normal","x":100,"y":1.4e-5}],
"r10":[{"t":"mean","x":-4500},{"t":"zero","x":0}],
"h11":[{"x":-10300,"x2":-9800,"y":3e-5},{"x":-9800,"x2":-9300,"y":3e-5},{"x":-9300,"x2":-8800,"y":3e-5},{"x":-8800,"x2":-8300,"y":3e-5},{"x":-8300,"x2":-7800,"y":4e-5},{"x":-7800,"x2":-7300,"y":4e-5},{"x":-7300,"x2":-6800,"y":5e-5},{"x":-6800,"x2":-6300,"y":6e-5},{"x":-6300,"x2":-5800,"y":8e-5},{"x":-5800,"x2":-5300,"y":10e-5},{"x":-5300,"x2":-4800,"y":14e-5},{"x":-4800,"x2":-4300,"y":20e-5},{"x":-4300,"x2":-3800,"y":27e-5},{"x":-3800,"x2":-3300,"y":30e-5},{"x":-3300,"x2":-2800,"y":24e-5},{"x":-2800,"x2":-2300,"y":13e-5},{"x":-2300,"x2":-1800,"y":5e-5},{"x":-1800,"x2":-1300,"y":2e-5},{"x":-1300,"x2":-800,"y":1e-5},{"x":-4000,"x2":-3800,"y":35e-5}],
"c11":[{"c":"kde","x":-10300,"y":2e-5},{"c":"kde","x":-8500,"y":3e-5},{"c":"kde","x":-7000,"y":5e-5},{"c":"kde","x":-6000,"y":8e-5},{"c":"kde","x":-5000,"y":17e-5},{"c":"kde","x":-4000,"y":30e-5},{"c":"kde","x":-3300,"y":24e-5},{"c":"kde","x":-2500,"y":8e-5},{"c":"kde","x":-1500,"y":2e-5},{"c":"kde","x":0,"y":0.5e-5},{"c":"normal","x":-9120,"y":1.2e-5},{"c":"normal","x":-8040,"y":4.4e-5},{"c":"normal","x":-6960,"y":10.7e-5},{"c":"normal","x":-5880,"y":18.4e-5},{"c":"normal","x":-4800,"y":22e-5},{"c":"normal","x":-3720,"y":18.4e-5},{"c":"normal","x":-2640,"y":10.7e-5},{"c":"normal","x":-1560,"y":4.4e-5},{"c":"normal","x":-480,"y":1.2e-5}],
"r11":[{"t":"mean","x":-4300},{"t":"zero","x":0}],
"h12":[{"x":-10300,"x2":-9800,"y":3e-5},{"x":-9800,"x2":-9300,"y":3e-5},{"x":-9300,"x2":-8800,"y":4e-5},{"x":-8800,"x2":-8300,"y":6e-5},{"x":-8300,"x2":-7800,"y":9e-5},{"x":-7800,"x2":-7300,"y":12e-5},{"x":-7300,"x2":-6800,"y":14e-5},{"x":-6800,"x2":-6300,"y":15e-5},{"x":-6300,"x2":-5800,"y":16e-5},{"x":-5800,"x2":-5300,"y":18e-5},{"x":-5300,"x2":-4800,"y":22e-5},{"x":-4800,"x2":-4300,"y":26e-5},{"x":-4300,"x2":-3800,"y":25e-5},{"x":-3800,"x2":-3300,"y":23e-5},{"x":-3300,"x2":-2800,"y":18e-5},{"x":-2800,"x2":-2300,"y":15e-5},{"x":-2300,"x2":-1800,"y":13e-5},{"x":-1800,"x2":-1300,"y":8e-5},{"x":-1300,"x2":-800,"y":4e-5},{"x":-800,"x2":-300,"y":2e-5},{"x":-4700,"x2":-4500,"y":30e-5},{"x":-3700,"x2":-3500,"y":28e-5}],
"c12":[{"c":"kde","x":-10300,"y":2e-5},{"c":"kde","x":-8800,"y":6e-5},{"c":"kde","x":-7300,"y":13e-5},{"c":"kde","x":-6000,"y":17e-5},{"c":"kde","x":-5000,"y":24e-5},{"c":"kde","x":-4000,"y":25e-5},{"c":"kde","x":-3000,"y":17e-5},{"c":"kde","x":-2000,"y":10e-5},{"c":"kde","x":-1000,"y":3e-5},{"c":"kde","x":0,"y":1e-5},{"c":"normal","x":-10280,"y":1.2e-5},{"c":"normal","x":-8960,"y":4.4e-5},{"c":"normal","x":-7640,"y":10.7e-5},{"c":"normal","x":-6320,"y":18.4e-5},{"c":"normal","x":-5000,"y":22e-5},{"c":"normal","x":-3680,"y":18.4e-5},{"c":"normal","x":-2360,"y":10.7e-5},{"c":"normal","x":-1040,"y":4.4e-5},{"c":"normal","x":280,"y":1.2e-5}],
"r12":[{"t":"mean","x":-4500},{"t":"zero","x":0}],
"h13":[{"x":-8800,"x2":-8300,"y":3e-5},{"x":-8300,"x2":-7800,"y":4e-5},{"x":-7800,"x2":-7300,"y":5e-5},{"x":-7300,"x2":-6800,"y":8e-5},{"x":-6800,"x2":-6300,"y":12e-5},{"x":-6300,"x2":-5800,"y":17e-5},{"x":-5800,"x2":-5300,"y":21e-5},{"x":-5300,"x2":-4800,"y":24e-5},{"x":-4800,"x2":-4300,"y":26e-5},{"x":-4300,"x2":-3800,"y":25e-5},{"x":-3800,"x2":-3300,"y":22e-5},{"x":-3300,"x2":-2800,"y":19e-5},{"x":-2800,"x2":-2300,"y":14e-5},{"x":-2300,"x2":-1800,"y":9e-5},{"x":-1800,"x2":-1300,"y":5e-5},{"x":-1300,"x2":-800,"y":2e-5},{"x":-800,"x2":-300,"y":1e-5},{"x":-4600,"x2":-4400,"y":36e-5},{"x":-3500,"x2":-3300,"y":28e-5}],
"c13":[{"c":"kde","x":-8800,"y":2e-5},{"c":"kde","x":-7500,"y":6e-5},{"c":"kde","x":-6500,"y":14e-5},{"c":"kde","x":-5500,"y":22e-5},{"c":"kde","x":-4600,"y":26e-5},{"c":"kde","x":-3600,"y":21e-5},{"c":"kde","x":-2600,"y":11e-5},{"c":"kde","x":-1500,"y":3e-5},{"c":"kde","x":0,"y":0.5e-5},{"c":"normal","x":-8820,"y":1.3e-5},{"c":"normal","x":-7740,"y":4.8e-5},{"c":"normal","x":-6660,"y":11.7e-5},{"c":"normal","x":-5580,"y":20e-5},{"c":"normal","x":-4500,"y":24e-5},{"c":"normal","x":-3420,"y":20e-5},{"c":"normal","x":-2340,"y":11.7e-5},{"c":"normal","x":-1260,"y":4.8e-5},{"c":"normal","x":-180,"y":1.3e-5}],
"r13":[{"t":"mean","x":-4500},{"t":"zero","x":0}],
"h14":[{"x":-8800,"x2":-8300,"y":4e-5},{"x":-8300,"x2":-7800,"y":5e-5},{"x":-7800,"x2":-7300,"y":7e-5},{"x":-7300,"x2":-6800,"y":9e-5},{"x":-6800,"x2":-6300,"y":12e-5},{"x":-6300,"x2":-5800,"y":15e-5},{"x":-5800,"x2":-5300,"y":18e-5},{"x":-5300,"x2":-4800,"y":20e-5},{"x":-4800,"x2":-4300,"y":22e-5},{"x":-4300,"x2":-3800,"y":25e-5},{"x":-3800,"x2":-3300,"y":24e-5},{"x":-3300,"x2":-2800,"y":20e-5},{"x":-2800,"x2":-2300,"y":15e-5},{"x":-2300,"x2":-1800,"y":10e-5},{"x":-1800,"x2":-1300,"y":6e-5},{"x":-1300,"x2":-800,"y":3e-5},{"x":-800,"x2":-300,"y":1e-5},{"x":-5600,"x2":-5400,"y":28e-5},{"x":-4100,"x2":-3900,"y":31e-5}],
"c14":[{"c":"kde","x":-8800,"y":3e-5},{"c":"kde","x":-7500,"y":8e-5},{"c":"kde","x":-6500,"y":13e-5},{"c":"kde","x":-5500,"y":19e-5},{"c":"kde","x":-4300,"y":25e-5},{"c":"kde","x":-3300,"y":20e-5},{"c":"kde","x":-2300,"y":10e-5},{"c":"kde","x":-1300,"y":3e-5},{"c":"kde","x":0,"y":0.5e-5},{"c":"normal","x":-9000,"y":1.6e-5},{"c":"normal","x":-8000,"y":4.6e-5},{"c":"normal","x":-6800,"y":11.2e-5},{"c":"normal","x":-5600,"y":19.2e-5},{"c":"normal","x":-4400,"y":23e-5},{"c":"normal","x":-3200,"y":19.2e-5},{"c":"normal","x":-2000,"y":11.2e-5},{"c":"normal","x":-800,"y":4.6e-5},{"c":"normal","x":300,"y":1.4e-5}],
"r14":[{"t":"mean","x":-4300},{"t":"zero","x":0}],
"h15":[{"x":-8800,"x2":-8300,"y":3e-5},{"x":-8300,"x2":-7800,"y":4e-5},{"x":-7800,"x2":-7300,"y":6e-5},{"x":-7300,"x2":-6800,"y":9e-5},{"x":-6800,"x2":-6300,"y":14e-5},{"x":-6300,"x2":-5800,"y":19e-5},{"x":-5800,"x2":-5300,"y":21e-5},{"x":-5300,"x2":-4800,"y":18e-5},{"x":-4800,"x2":-4300,"y":20e-5},{"x":-4300,"x2":-3800,"y":24e-5},{"x":-3800,"x2":-3300,"y":22e-5},{"x":-3300,"x2":-2800,"y":18e-5},{"x":-2800,"x2":-2300,"y":20e-5},{"x":-2300,"x2":-1800,"y":15e-5},{"x":-1800,"x2":-1300,"y":8e-5},{"x":-1300,"x2":-800,"y":3e-5},{"x":-800,"x2":-300,"y":1e-5}],
"c15":[{"c":"kde","x":-8800,"y":2e-5},{"c":"kde","x":-7500,"y":7e-5},{"c":"kde","x":-6300,"y":18e-5},{"c":"kde","x":-5500,"y":19e-5},{"c":"kde","x":-4300,"y":23e-5},{"c":"kde","x":-3300,"y":18e-5},{"c":"kde","x":-2700,"y":19e-5},{"c":"kde","x":-1800,"y":9e-5},{"c":"kde","x":-800,"y":2e-5},{"c":"kde","x":0,"y":0.5e-5},{"c":"normal","x":-8960,"y":1.2e-5},{"c":"normal","x":-7820,"y":4.2e-5},{"c":"normal","x":-6680,"y":10.2e-5},{"c":"normal","x":-5540,"y":17.5e-5},{"c":"normal","x":-4400,"y":21e-5},{"c":"normal","x":-3260,"y":17.5e-5},{"c":"normal","x":-2120,"y":10.2e-5},{"c":"normal","x":-980,"y":4.2e-5},{"c":"normal","x":160,"y":1.2e-5}],
"r15":[{"t":"mean","x":-4400},{"t":"zero","x":0}],
"h16":[{"x":-8800,"x2":-8300,"y":4e-5},{"x":-8300,"x2":-7800,"y":4e-5},{"x":-7800,"x2":-7300,"y":5e-5},{"x":-7300,"x2":-6800,"y":5e-5},{"x":-6800,"x2":-6300,"y":6e-5},{"x":-6300,"x2":-5800,"y":7e-5},{"x":-5800,"x2":-5300,"y":9e-5},{"x":-5300,"x2":-4800,"y":11e-5},{"x":-4800,"x2":-4300,"y":13e-5},{"x":-4300,"x2":-3800,"y":16e-5},{"x":-3800,"x2":-3300,"y":20e-5},{"x":-3300,"x2":-2800,"y":25e-5},{"x":-2800,"x2":-2300,"y":27e-5},{"x":-2300,"x2":-1800,"y":20e-5},{"x":-1800,"x2":-1300,"y":8e-5},{"x":-1300,"x2":-800,"y":2e-5},{"x":-800,"x2":-300,"y":1e-5}],
"c16":[{"c":"kde","x":-8800,"y":3e-5},{"c":"kde","x":-7500,"y":5e-5},{"c":"kde","x":-6000,"y":8e-5},{"c":"kde","x":-5000,"y":12e-5},{"c":"kde","x":-4000,"y":19e-5},{"c":"kde","x":-3000,"y":27e-5},{"c":"kde","x":-2300,"y":20e-5},{"c":"kde","x":-1500,"y":5e-5},{"c":"kde","x":0,"y":0.5e-5},{"c":"normal","x":-8860,"y":1.1e-5},{"c":"normal","x":-7720,"y":4e-5},{"c":"normal","x":-6580,"y":9.7e-5},{"c":"normal","x":-5440,"y":16.7e-5},{"c":"normal","x":-4300,"y":20e-5},{"c":"normal","x":-3160,"y":16.7e-5},{"c":"normal","x":-2020,"y":9.7e-5},{"c":"normal","x":-880,"y":4e-5},{"c":"normal","x":260,"y":1.1e-5}],
"r16":[{"t":"mean","x":-4200},{"t":"zero","x":0}],
"h17":[{"x":-8800,"x2":-8300,"y":5e-5},{"x":-8300,"x2":-7800,"y":5e-5},{"x":-7800,"x2":-7300,"y":6e-5},{"x":-7300,"x2":-6800,"y":7e-5},{"x":-6800,"x2":-6300,"y":8e-5},{"x":-6300,"x2":-5800,"y":10e-5},{"x":-5800,"x2":-5300,"y":13e-5},{"x":-5300,"x2":-4800,"y":17e-5},{"x":-4800,"x2":-4300,"y":21e-5},{"x":-4300,"x2":-3800,"y":24e-5},{"x":-3800,"x2":-3300,"y":25e-5},{"x":-3300,"x2":-2800,"y":22e-5},{"x":-2800,"x2":-2300,"y":16e-5},{"x":-2300,"x2":-1800,"y":10e-5},{"x":-1800,"x2":-1300,"y":6e-5},{"x":-1300,"x2":-800,"y":3e-5},{"x":-800,"x2":-300,"y":1e-5},{"x":-4600,"x2":-4400,"y":29e-5},{"x":-3500,"x2":-3300,"y":31e-5}],
"c17":[{"c":"kde","x":-8800,"y":3e-5},{"c":"kde","x":-7500,"y":6e-5},{"c":"kde","x":-6300,"y":10e-5},{"c":"kde","x":-5300,"y":17e-5},{"c":"kde","x":-4300,"y":24e-5},{"c":"kde","x":-3500,"y":25e-5},{"c":"kde","x":-2700,"y":15e-5},{"c":"kde","x":-1600,"y":4e-5},{"c":"kde","x":0,"y":0.5e-5},{"c":"normal","x":-9000,"y":1.5e-5},{"c":"normal","x":-7900,"y":4.2e-5},{"c":"normal","x":-6700,"y":10.2e-5},{"c":"normal","x":-5500,"y":17.5e-5},{"c":"normal","x":-4300,"y":21e-5},{"c":"normal","x":-3100,"y":17.5e-5},{"c":"normal","x":-1900,"y":10.2e-5},{"c":"normal","x":-700,"y":4.2e-5},{"c":"normal","x":300,"y":1.6e-5}],
"r17":[{"t":"mean","x":-4000},{"t":"zero","x":0}],
"h18":[{"x":-8800,"x2":-8300,"y":6e-5},{"x":-8300,"x2":-7800,"y":6e-5},{"x":-7800,"x2":-7300,"y":6e-5},{"x":-7300,"x2":-6800,"y":6e-5},{"x":-6800,"x2":-6300,"y":6e-5},{"x":-6300,"x2":-5800,"y":6e-5},{"x":-5800,"x2":-5300,"y":7e-5},{"x":-5300,"x2":-4800,"y":9e-5},{"x":-4800,"x2":-4300,"y":14e-5},{"x":-4300,"x2":-3800,"y":16e-5},{"x":-3800,"x2":-3300,"y":17e-5},{"x":-3300,"x2":-2800,"y":15e-5},{"x":-2800,"x2":-2300,"y":12e-5},{"x":-2300,"x2":-1800,"y":9e-5},{"x":-1800,"x2":-1300,"y":8e-5},{"x":-1300,"x2":-800,"y":8e-5},{"x":-800,"x2":-300,"y":7e-5},{"x":-300,"x2":0,"y":3e-5},{"x":-4000,"x2":-3750,"y":30e-5}],
"c18":[{"c":"kde","x":-8800,"y":5e-5},{"c":"kde","x":-7000,"y":6e-5},{"c":"kde","x":-5800,"y":7e-5},{"c":"kde","x":-5000,"y":11e-5},{"c":"kde","x":-4400,"y":17e-5},{"c":"kde","x":-3900,"y":27e-5},{"c":"kde","x":-3300,"y":15e-5},{"c":"kde","x":-2500,"y":9e-5},{"c":"kde","x":-1500,"y":8e-5},{"c":"kde","x":-500,"y":6e-5},{"c":"kde","x":0,"y":3e-5},{"c":"normal","x":-9000,"y":1.8e-5},{"c":"normal","x":-8360,"y":3.2e-5},{"c":"normal","x":-7040,"y":7.8e-5},{"c":"normal","x":-5720,"y":13.4e-5},{"c":"normal","x":-4400,"y":16e-5},{"c":"normal","x":-3080,"y":13.4e-5},{"c":"normal","x":-1760,"y":7.8e-5},{"c":"normal","x":-440,"y":3.2e-5},{"c":"normal","x":300,"y":1.6e-5}],
"r18":[{"t":"mean","x":-4000},{"t":"zero","x":0}],
"h19":[{"x":-8800,"x2":-8300,"y":3e-5},{"x":-8300,"x2":-7800,"y":3e-5},{"x":-7800,"x2":-7300,"y":4e-5},{"x":-7300,"x2":-6800,"y":5e-5},{"x":-6800,"x2":-6300,"y":7e-5},{"x":-6300,"x2":-5800,"y":9e-5},{"x":-5800,"x2":-5300,"y":12e-5},{"x":-5300,"x2":-4800,"y":15e-5},{"x":-4800,"x2":-4300,"y":18e-5},{"x":-4300,"x2":-3800,"y":22e-5},{"x":-3800,"x2":-3300,"y":26e-5},{"x":-3300,"x2":-2800,"y":28e-5},{"x":-2800,"x2":-2300,"y":20e-5},{"x":-2300,"x2":-1800,"y":11e-5},{"x":-1800,"x2":-1300,"y":5e-5},{"x":-1300,"x2":-800,"y":2e-5},{"x":-800,"x2":-300,"y":1e-5},{"x":-3600,"x2":-3400,"y":33e-5}],
"c19":[{"c":"kde","x":-8800,"y":2e-5},{"c":"kde","x":-7500,"y":4e-5},{"c":"kde","x":-6300,"y":9e-5},{"c":"kde","x":-5300,"y":15e-5},{"c":"kde","x":-4300,"y":22e-5},{"c":"kde","x":-3500,"y":29e-5},{"c":"kde","x":-2700,"y":18e-5},{"c":"kde","x":-1800,"y":5e-5},{"c":"kde","x":-800,"y":1e-5},{"c":"kde","x":0,"y":0.5e-5},{"c":"normal","x":-8620,"y":1.2e-5},{"c":"normal","x":-7540,"y":4.2e-5},{"c":"normal","x":-6460,"y":10.2e-5},{"c":"normal","x":-5380,"y":17.5e-5},{"c":"normal","x":-4300,"y":21e-5},{"c":"normal","x":-3220,"y":17.5e-5},{"c":"normal","x":-2140,"y":10.2e-5},{"c":"normal","x":-1060,"y":4.2e-5},{"c":"normal","x":20,"y":1.2e-5}],
"r19":[{"t":"mean","x":-4000},{"t":"zero","x":0}],
"h20":[{"x":-8800,"x2":-8300,"y":4e-5},{"x":-8300,"x2":-7800,"y":4e-5},{"x":-7800,"x2":-7300,"y":5e-5},{"x":-7300,"x2":-6800,"y":7e-5},{"x":-6800,"x2":-6300,"y":9e-5},{"x":-6300,"x2":-5800,"y":12e-5},{"x":-5800,"x2":-5300,"y":16e-5},{"x":-5300,"x2":-4800,"y":19e-5},{"x":-4800,"x2":-4300,"y":22e-5},{"x":-4300,"x2":-3800,"y":23e-5},{"x":-3800,"x2":-3300,"y":24e-5},{"x":-3300,"x2":-2800,"y":21e-5},{"x":-2800,"x2":-2300,"y":17e-5},{"x":-2300,"x2":-1800,"y":12e-5},{"x":-1800,"x2":-1300,"y":7e-5},{"x":-1300,"x2":-800,"y":4e-5},{"x":-800,"x2":-300,"y":2e-5},{"x":-4000,"x2":-3800,"y":28e-5}],
"c20":[{"c":"kde","x":-8800,"y":3e-5},{"c":"kde","x":-7500,"y":6e-5},{"c":"kde","x":-6300,"y":12e-5},{"c":"kde","x":-5300,"y":19e-5},{"c":"kde","x":-4300,"y":23e-5},{"c":"kde","x":-3300,"y":21e-5},{"c":"kde","x":-2300,"y":12e-5},{"c":"kde","x":-1300,"y":4e-5},{"c":"kde","x":0,"y":1e-5},{"c":"normal","x":-9000,"y":1.6e-5},{"c":"normal","x":-7900,"y":4.4e-5},{"c":"normal","x":-6700,"y":10.7e-5},{"c":"normal","x":-5500,"y":18.4e-5},{"c":"normal","x":-4300,"y":22e-5},{"c":"normal","x":-3100,"y":18.4e-5},{"c":"normal","x":-1900,"y":10.7e-5},{"c":"normal","x":-700,"y":4.4e-5},{"c":"normal","x":300,"y":1.7e-5}],
"r20":[{"t":"mean","x":-4300},{"t":"zero","x":0}],
"h21":[{"x":-10500,"x2":-10000,"y":7e-5},{"x":-10000,"x2":-9500,"y":7e-5},{"x":-9500,"x2":-9000,"y":7e-5},{"x":-9000,"x2":-8500,"y":7e-5},{"x":-8500,"x2":-8000,"y":7e-5},{"x":-8000,"x2":-7500,"y":7e-5},{"x":-7500,"x2":-7000,"y":7e-5},{"x":-7000,"x2":-6500,"y":7e-5},{"x":-6500,"x2":-6000,"y":8e-5},{"x":-6000,"x2":-5500,"y":8e-5},{"x":-5500,"x2":-5000,"y":8e-5},{"x":-5000,"x2":-4500,"y":9e-5},{"x":-4500,"x2":-4000,"y":12e-5},{"x":-4000,"x2":-3500,"y":17e-5},{"x":-3500,"x2":-3000,"y":22e-5},{"x":-3000,"x2":-2500,"y":17e-5},{"x":-2500,"x2":-2000,"y":6e-5},{"x":-2000,"x2":-1500,"y":1e-5},{"x":-3400,"x2":-3100,"y":26e-5}],
"c21":[{"c":"kde","x":-10500,"y":5e-5},{"c":"kde","x":-9000,"y":6e-5},{"c":"kde","x":-7500,"y":7e-5},{"c":"kde","x":-6000,"y":8e-5},{"c":"kde","x":-5000,"y":10e-5},{"c":"kde","x":-4200,"y":16e-5},{"c":"kde","x":-3400,"y":25e-5},{"c":"kde","x":-2700,"y":15e-5},{"c":"kde","x":-2000,"y":3e-5},{"c":"kde","x":-1000,"y":0.5e-5},{"c":"kde","x":0,"y":0},{"c":"normal","x":-10800,"y":1.3e-5},{"c":"normal","x":-9820,"y":3e-5},{"c":"normal","x":-8380,"y":7.3e-5},{"c":"normal","x":-6940,"y":12.5e-5},{"c":"normal","x":-5500,"y":15e-5},{"c":"normal","x":-4060,"y":12.5e-5},{"c":"normal","x":-2620,"y":7.3e-5},{"c":"normal","x":-1180,"y":3e-5},{"c":"normal","x":260,"y":0.8e-5}],
"r21":[{"t":"mean","x":-4800},{"t":"zero","x":0}],
"h22":[{"x":-8800,"x2":-8300,"y":5e-5},{"x":-8300,"x2":-7800,"y":5e-5},{"x":-7800,"x2":-7300,"y":6e-5},{"x":-7300,"x2":-6800,"y":6e-5},{"x":-6800,"x2":-6300,"y":7e-5},{"x":-6300,"x2":-5800,"y":9e-5},{"x":-5800,"x2":-5300,"y":12e-5},{"x":-5300,"x2":-4800,"y":15e-5},{"x":-4800,"x2":-4300,"y":19e-5},{"x":-4300,"x2":-3800,"y":22e-5},{"x":-3800,"x2":-3300,"y":24e-5},{"x":-3300,"x2":-2800,"y":22e-5},{"x":-2800,"x2":-2300,"y":17e-5},{"x":-2300,"x2":-1800,"y":10e-5},{"x":-1800,"x2":-1300,"y":5e-5},{"x":-1300,"x2":-800,"y":2e-5},{"x":-800,"x2":-300,"y":1e-5},{"x":-3900,"x2":-3700,"y":30e-5}],
"c22":[{"c":"kde","x":-8800,"y":4e-5},{"c":"kde","x":-7500,"y":6e-5},{"c":"kde","x":-6300,"y":9e-5},{"c":"kde","x":-5300,"y":15e-5},{"c":"kde","x":-4300,"y":22e-5},{"c":"kde","x":-3700,"y":25e-5},{"c":"kde","x":-3000,"y":20e-5},{"c":"kde","x":-2000,"y":8e-5},{"c":"kde","x":-1000,"y":2e-5},{"c":"kde","x":0,"y":0.5e-5},{"c":"normal","x":-8860,"y":1.2e-5},{"c":"normal","x":-7720,"y":4.2e-5},{"c":"normal","x":-6580,"y":10.2e-5},{"c":"normal","x":-5440,"y":17.5e-5},{"c":"normal","x":-4300,"y":21e-5},{"c":"normal","x":-3160,"y":17.5e-5},{"c":"normal","x":-2020,"y":10.2e-5},{"c":"normal","x":-880,"y":4.2e-5},{"c":"normal","x":260,"y":1.2e-5}],
"r22":[{"t":"mean","x":-4200},{"t":"zero","x":0}],
"h23":[{"x":-8800,"x2":-8300,"y":3e-5},{"x":-8300,"x2":-7800,"y":5e-5},{"x":-7800,"x2":-7300,"y":8e-5},{"x":-7300,"x2":-6800,"y":12e-5},{"x":-6800,"x2":-6300,"y":17e-5},{"x":-6300,"x2":-5800,"y":22e-5},{"x":-5800,"x2":-5300,"y":26e-5},{"x":-5300,"x2":-4800,"y":28e-5},{"x":-4800,"x2":-4300,"y":28e-5},{"x":-4300,"x2":-3800,"y":25e-5},{"x":-3800,"x2":-3300,"y":21e-5},{"x":-3300,"x2":-2800,"y":16e-5},{"x":-2800,"x2":-2300,"y":11e-5},{"x":-2300,"x2":-1800,"y":7e-5},{"x":-1800,"x2":-1300,"y":4e-5},{"x":-1300,"x2":-800,"y":2e-5},{"x":-800,"x2":-300,"y":1e-5}],
"c23":[{"c":"kde","x":-8800,"y":2e-5},{"c":"kde","x":-7500,"y":9e-5},{"c":"kde","x":-6500,"y":19e-5},{"c":"kde","x":-5500,"y":27e-5},{"c":"kde","x":-5000,"y":29e-5},{"c":"kde","x":-4200,"y":25e-5},{"c":"kde","x":-3200,"y":15e-5},{"c":"kde","x":-2200,"y":6e-5},{"c":"kde","x":-1000,"y":1e-5},{"c":"kde","x":0,"y":0.5e-5},{"c":"normal","x":-9000,"y":2.4e-5},{"c":"normal","x":-8240,"y":5.5e-5},{"c":"normal","x":-7160,"y":13.6e-5},{"c":"normal","x":-6080,"y":23.4e-5},{"c":"normal","x":-5000,"y":28e-5},{"c":"normal","x":-3920,"y":23.4e-5},{"c":"normal","x":-2840,"y":13.6e-5},{"c":"normal","x":-1760,"y":5.5e-5},{"c":"normal","x":-680,"y":1.6e-5}],
"r23":[{"t":"mean","x":-5000},{"t":"zero","x":0}],
"h24":[{"x":-6800,"x2":-6500,"y":3e-5},{"x":-6500,"x2":-6200,"y":3e-5},{"x":-6200,"x2":-5900,"y":3e-5},{"x":-5900,"x2":-5600,"y":3e-5},{"x":-5600,"x2":-5300,"y":3e-5},{"x":-5300,"x2":-5000,"y":8e-5},{"x":-5000,"x2":-4700,"y":18e-5},{"x":-4700,"x2":-4400,"y":25e-5},{"x":-4400,"x2":-4100,"y":28e-5},{"x":-4100,"x2":-3800,"y":26e-5},{"x":-3800,"x2":-3500,"y":24e-5},{"x":-3500,"x2":-3200,"y":21e-5},{"x":-3200,"x2":-2900,"y":19e-5},{"x":-2900,"x2":-2600,"y":18e-5},{"x":-2600,"x2":-2300,"y":14e-5},{"x":-2300,"x2":-2000,"y":10e-5},{"x":-2000,"x2":-1700,"y":7e-5},{"x":-1700,"x2":-1400,"y":4e-5},{"x":-1400,"x2":-1100,"y":3e-5},{"x":-1100,"x2":-800,"y":3e-5},{"x":-800,"x2":-500,"y":3e-5},{"x":-500,"x2":-200,"y":3e-5},{"x":-200,"x2":0,"y":2e-5},{"x":-4450,"x2":-4250,"y":31e-5}],
"c24":[{"c":"kde","x":-6800,"y":2e-5},{"c":"kde","x":-5800,"y":3e-5},{"c":"kde","x":-5200,"y":10e-5},{"c":"kde","x":-4700,"y":24e-5},{"c":"kde","x":-4300,"y":29e-5},{"c":"kde","x":-3800,"y":24e-5},{"c":"kde","x":-3000,"y":19e-5},{"c":"kde","x":-2300,"y":11e-5},{"c":"kde","x":-1700,"y":4e-5},{"c":"kde","x":-800,"y":3e-5},{"c":"kde","x":0,"y":1e-5},{"c":"normal","x":-6440,"y":1.3e-5},{"c":"normal","x":-5780,"y":4.6e-5},{"c":"normal","x":-5120,"y":11.2e-5},{"c":"normal","x":-4460,"y":19.2e-5},{"c":"normal","x":-3800,"y":23e-5},{"c":"normal","x":-3140,"y":19.2e-5},{"c":"normal","x":-2480,"y":11.2e-5},{"c":"normal","x":-1820,"y":4.6e-5},{"c":"normal","x":-1160,"y":1.3e-5}],
"r24":[{"t":"mean","x":-3700},{"t":"zero","x":0}],
"h25":[{"x":-9800,"x2":-9300,"y":3e-5},{"x":-9300,"x2":-8800,"y":6e-5},{"x":-8800,"x2":-8300,"y":10e-5},{"x":-8300,"x2":-7800,"y":14e-5},{"x":-7800,"x2":-7300,"y":17e-5},{"x":-7300,"x2":-6800,"y":20e-5},{"x":-6800,"x2":-6300,"y":24e-5},{"x":-6300,"x2":-5800,"y":28e-5},{"x":-5800,"x2":-5300,"y":26e-5},{"x":-5300,"x2":-4800,"y":21e-5},{"x":-4800,"x2":-4300,"y":16e-5},{"x":-4300,"x2":-3800,"y":12e-5},{"x":-3800,"x2":-3300,"y":8e-5},{"x":-3300,"x2":-2800,"y":4e-5},{"x":-2800,"x2":-2300,"y":1e-5},{"x":-2300,"x2":-1800,"y":0.5e-5},{"x":-1800,"x2":-1300,"y":0.5e-5},{"x":-1300,"x2":-800,"y":0.5e-5},{"x":-800,"x2":-300,"y":0.5e-5},{"x":-6200,"x2":-5900,"y":33e-5}],
"c25":[{"c":"kde","x":-9800,"y":4e-5},{"c":"kde","x":-8800,"y":9e-5},{"c":"kde","x":-7800,"y":17e-5},{"c":"kde","x":-6900,"y":25e-5},{"c":"kde","x":-6100,"y":31e-5},{"c":"kde","x":-5300,"y":22e-5},{"c":"kde","x":-4300,"y":12e-5},{"c":"kde","x":-3300,"y":5e-5},{"c":"kde","x":-2300,"y":1e-5},{"c":"kde","x":-1000,"y":0.5e-5},{"c":"kde","x":0,"y":0.3e-5},{"c":"normal","x":-9800,"y":1.6e-5},{"c":"normal","x":-8900,"y":5.5e-5},{"c":"normal","x":-8000,"y":13.6e-5},{"c":"normal","x":-7100,"y":23.4e-5},{"c":"normal","x":-6200,"y":28e-5},{"c":"normal","x":-5300,"y":23.4e-5},{"c":"normal","x":-4400,"y":13.6e-5},{"c":"normal","x":-3500,"y":5.5e-5},{"c":"normal","x":-2600,"y":1.6e-5}],
"r25":[{"t":"mean","x":-6100},{"t":"zero","x":0}]
},
"config":{
"font":"Lato",
"view":{"continuousWidth":80,"continuousHeight":50,"fill":"#ebebeb","stroke":null},
"numberFormat":".4~f",
"legend":{"disable":true},
"range":{"category":["#4c4cd0","#8f8fa8","#6f6f6f","#3c3c3c"]},
"title":{"fontSize":6.5,"fontWeight":"normal","color":"#555555","offset":-9.5},
"axisBottom":{"grid":true,"gridColor":"#ffffff","gridWidth":0.5,"tickCount":5,"labelFontSize":3.6,"labelColor":"#555555","labelPadding":0.5,"tickSize":1.5,"tickColor":"#333333","tickWidth":0.4,"domain":false,"titleFontSize":4.5,"titleFontWeight":"normal","titleColor":"#555555","titlePadding":0.5},
"axisLeft":{"grid":true,"gridColor":"#ffffff","gridWidth":0.5,"tickCount":4,"labelFontSize":3.4,"labelColor":"#555555","labelAngle":-90,"labelPadding":0.5,"tickSize":1.5,"tickColor":"#333333","tickWidth":0.4,"domain":false,"titleFontSize":4.5,"titleFontWeight":"normal","titleColor":"#555555","titlePadding":1},
"axisTop":{"grid":false,"labels":false,"ticks":false,"domain":false,"titleFontSize":10,"titleFontWeight":"bold","titleColor":"#111111","titleAlign":"left","titleX":-11,"titlePadding":0.5,"titleFont":"Roboto"},
"rect":{"stroke":"#ffffff","strokeWidth":0.15},
"line":{"interpolate":"basis","strokeWidth":0.7},
"rule":{"strokeDash":[2,1.5],"strokeWidth":0.6}
}
}
